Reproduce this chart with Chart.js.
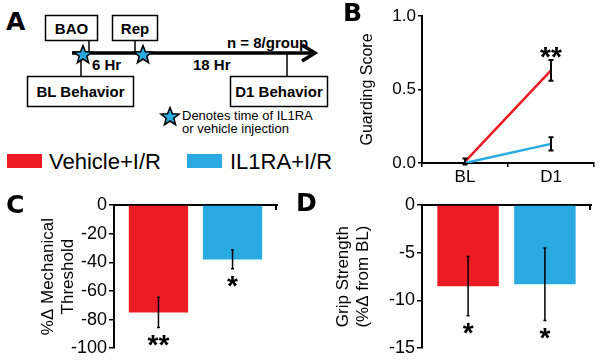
<!DOCTYPE html>
<html>
<head>
<meta charset="utf-8">
<title>IL1RA: guarding, mechanical threshold, grip strength</title>
<script src="https://cdn.jsdelivr.net/npm/chart.js@4.4.1/dist/chart.umd.min.js"></script>
<style>
  html, body { margin: 0; padding: 0; background: #fff; }
  body { position: relative; width: 601px; height: 361px; overflow: hidden; font-family: "Liberation Sans", Arial, sans-serif; }
  svg, canvas { position: absolute; }
  .letter { position: absolute; font-family: "DejaVu Sans", sans-serif; font-weight: bold; font-size: 25px; line-height: 25px; }
</style>
</head>
<body>
<svg id="scheme" width="340" height="175" style="left:0;top:0" font-family="Liberation Sans, Arial, sans-serif">
  <g fill="none" stroke="#000" stroke-width="1.5">
    <rect x="45.5" y="15.5" width="52" height="25"/>
    <rect x="112.5" y="15.5" width="45" height="25"/>
    <rect x="27.5" y="76.5" width="106" height="30"/>
    <rect x="230.5" y="76.5" width="97" height="30"/>
    <path d="M89 40V53M135 40V53M81 53V76M287 53V76"/>
  </g>
  <path d="M72 53H314" stroke="#000" stroke-width="3.5"/>
  <path d="M302 45L315 53L302 61" fill="none" stroke="#000" stroke-width="3.5"/>
  <g font-weight="bold" font-size="15" text-anchor="middle">
    <text x="71.5" y="33.5">BAO</text>
    <text x="135" y="33.5">Rep</text>
    <text x="80.5" y="97">BL Behavior</text>
    <text x="279" y="97">D1 Behavior</text>
  </g>
  <g font-weight="bold" font-size="15">
    <text x="92" y="70">6 Hr</text>
    <text x="193" y="70">18 Hr</text>
    <text x="227" y="47.5">n = 8/group</text>
  </g>
  <g class="stars" fill="#29abe2" stroke="#000" stroke-width="1.5">
    <polygon data-c="83,55"/>
    <polygon data-c="143,55"/>
    <polygon data-c="170,117"/>
  </g>
  <g font-size="13">
    <text x="182" y="119.5">Denotes time of IL1RA</text>
    <text x="182" y="132.5">or vehicle injection</text>
  </g>
  <rect x="7" y="154" width="35" height="14" fill="#ed1c24"/>
  <text x="49" y="169" font-size="22">Vehicle+I/R</text>
  <rect x="187" y="154" width="35" height="14" fill="#29abe2"/>
  <text x="230" y="169" font-size="22">IL1RA+I/R</text>
</svg>

<canvas id="guarding" width="261" height="190" style="left:340px;top:0"></canvas>
<canvas id="mech" width="300" height="171" style="left:0;top:190px"></canvas>
<canvas id="grip" width="301" height="171" style="left:300px;top:190px"></canvas>

<div class="letter" style="left:6px;top:9px">A</div>
<div class="letter" style="left:343px;top:0px">B</div>
<div class="letter" style="left:6px;top:192px">C</div>
<div class="letter" style="left:296px;top:190px">D</div>

<script>
// B: guarding score
const timepoints = ['BL', 'D1'];
const guardVehicle = [0.01, 0.63];
const guardVehicleErr = [0.02, 0.07];
const guardIL1RA = [0.0, 0.13];
const guardIL1RAErr = [0.0, 0.045];
const guardStars = ['', '**'];
const guardTicks = [0, 0.5, 1.0];

// C: mechanical threshold
const groups = ['Vehicle+I/R', 'IL1RA+I/R'];
const mechValues = [-75, -38];
const mechErr = [10.5, 6.5];
const mechStars = ['**', '*'];
const mechTicks = [0, -20, -40, -60, -80, -100];

// D: grip strength
const gripValues = [-8.5, -8.3];
const gripErr = [3.1, 3.8];
const gripStars = ['*', '*'];
const gripTicks = [0, -5, -10, -15];

const RED = '#ed1c24';
const BLUE = '#29abe2';

// stars in the timeline legend
document.querySelectorAll('.stars polygon').forEach(p => {
  const [cx, cy] = p.dataset.c.split(',').map(Number);
  const pts = [];
  for (let k = 0; k < 10; k++) {
    const r = k % 2 ? 4 : 9.5;
    const a = -Math.PI / 2 + k * Math.PI / 5;
    pts.push((cx + r * Math.cos(a)).toFixed(1) + ',' + (cy + r * Math.sin(a)).toFixed(1));
  }
  p.setAttribute('points', pts.join(' '));
});

Chart.defaults.font.family = '"Liberation Sans", Arial, sans-serif';
Chart.defaults.color = '#000';

// error bars + significance stars, placed with the y scale
const errorBars = {
  id: 'errorBars',
  afterDatasetsDraw(chart, args, opts) {
    const ctx = chart.ctx;
    const y = chart.scales.y;
    ctx.save();
    chart.data.datasets.forEach((ds, i) => {
      const meta = chart.getDatasetMeta(i);
      meta.data.forEach((el, j) => {
        const v = meta.controller.getParsed(j).y;
        const e = ds.errors[j];
        const top = y.getPixelForValue(v + e);
        const bot = y.getPixelForValue(v - e);
        if (e > 0) {
          ctx.strokeStyle = '#000';
          ctx.lineWidth = opts.width;
          ctx.beginPath();
          ctx.moveTo(el.x, top); ctx.lineTo(el.x, bot);
          ctx.moveTo(el.x - opts.cap, top); ctx.lineTo(el.x + opts.cap, top);
          ctx.moveTo(el.x - opts.cap, bot); ctx.lineTo(el.x + opts.cap, bot);
          ctx.stroke();
        }
        const s = ds.stars && ds.stars[j];
        if (s) {
          ctx.fillStyle = '#000';
          ctx.font = 'bold ' + opts.starSize + 'px "Liberation Sans", Arial, sans-serif';
          ctx.textAlign = 'center';
          ctx.textBaseline = 'alphabetic';
          const cy = opts.starSide === 'above' ? top - opts.starGap : bot + opts.starGap;
          ctx.fillText(s, el.x, cy + 0.575 * opts.starSize);
        }
      });
    });
    if (opts.endTick) {
      const a = chart.chartArea;
      ctx.strokeStyle = '#000';
      ctx.lineWidth = 2;
      ctx.beginPath();
      ctx.moveTo(a.right - 1, a.top);
      ctx.lineTo(a.right - 1, a.top + 5);
      ctx.stroke();
    }
    ctx.restore();
  }
};

const axisGrid = { drawOnChartArea: false, color: '#000', lineWidth: 1.5, tickLength: 4 };
const axisBorder = { color: '#000', width: 2 };

new Chart(document.getElementById('guarding'), {
  type: 'line',
  data: {
    labels: timepoints,
    datasets: [
      { label: 'IL1RA+I/R', data: guardIL1RA, errors: guardIL1RAErr, borderColor: BLUE, order: 0 },
      { label: 'Vehicle+I/R', data: guardVehicle, errors: guardVehicleErr, stars: guardStars, borderColor: RED, order: 1 }
    ]
  },
  options: {
    responsive: false,
    animation: false,
    layout: { padding: { top: 16, right: 7, left: 0, bottom: 0 } },
    elements: { point: { radius: 0 }, line: { borderWidth: 2.5, tension: 0 } },
    plugins: {
      legend: { display: false },
      tooltip: { enabled: false },
      errorBars: { width: 2, cap: 2.5, starSide: 'above', starGap: 10.5, starSize: 28 }
    },
    scales: {
      x: {
        offset: true,
        grid: { ...axisGrid, offset: true },
        border: axisBorder,
        ticks: { font: { size: 17 }, padding: 0 },
        afterFit: s => { s.height = 27; }
      },
      y: {
        min: 0, max: 1,
        afterBuildTicks: s => { s.ticks = guardTicks.map(v => ({ value: v })); },
        ticks: { font: { size: 17 }, padding: 2, callback: v => v.toFixed(1) },
        grid: axisGrid,
        border: axisBorder,
        title: { display: true, text: 'Guarding Score', font: { size: 16 }, padding: { top: 18.4, bottom: 0 } },
        afterFit: s => { s.width = 82; }
      }
    }
  },
  plugins: [errorBars]
});

function barChart(id, values, errs, stars, ticks, yMin, title, titlePad, yWidth, padRight) {
  return new Chart(document.getElementById(id), {
    type: 'bar',
    data: {
      labels: groups,
      datasets: [{
        data: values.map((v, i) => ({ x: i, y: v })),
        errors: errs,
        stars: stars,
        backgroundColor: [RED, BLUE],
        barPercentage: 0.8,
        categoryPercentage: 1
      }]
    },
    options: {
      responsive: false,
      animation: false,
      layout: { padding: { top: 0, right: padRight, left: 0, bottom: 12 } },
      plugins: {
        legend: { display: false },
        tooltip: { enabled: false },
        errorBars: { width: 1.5, cap: 1.5, starSide: 'below', starGap: 10, starSize: 28, endTick: true }
      },
      scales: {
        x: {
          type: 'linear', position: 'top', min: -0.6, max: 1.6, z: 1,
          offset: false,
          afterBuildTicks: s => { s.ticks = groups.map((g, i) => ({ value: i })); },
          ticks: { display: false },
          grid: { display: false, offset: false },
          border: axisBorder,
          afterFit: s => { s.height = 15; }
        },
        y: {
          min: yMin, max: 0,
          afterBuildTicks: s => { s.ticks = ticks.map(v => ({ value: v })); },
          ticks: { font: { size: 18 }, padding: 2 },
          grid: { ...axisGrid, tickLength: 5 },
          border: axisBorder,
          title: { display: true, text: title, font: { size: 17 }, padding: { top: titlePad, bottom: 0 } },
          afterFit: s => { s.width = yWidth; }
        }
      }
    },
    plugins: [errorBars]
  });
}

barChart('mech', mechValues, mechErr, mechStars, mechTicks, -100, ['%Δ Mechanical', 'Threshold'], 37.8, 114, 23);
barChart('grip', gripValues, gripErr, gripStars, gripTicks, -15, ['Grip Strength', '(%Δ from BL)'], 32.8, 122, 10);
</script>
</body>
</html>
